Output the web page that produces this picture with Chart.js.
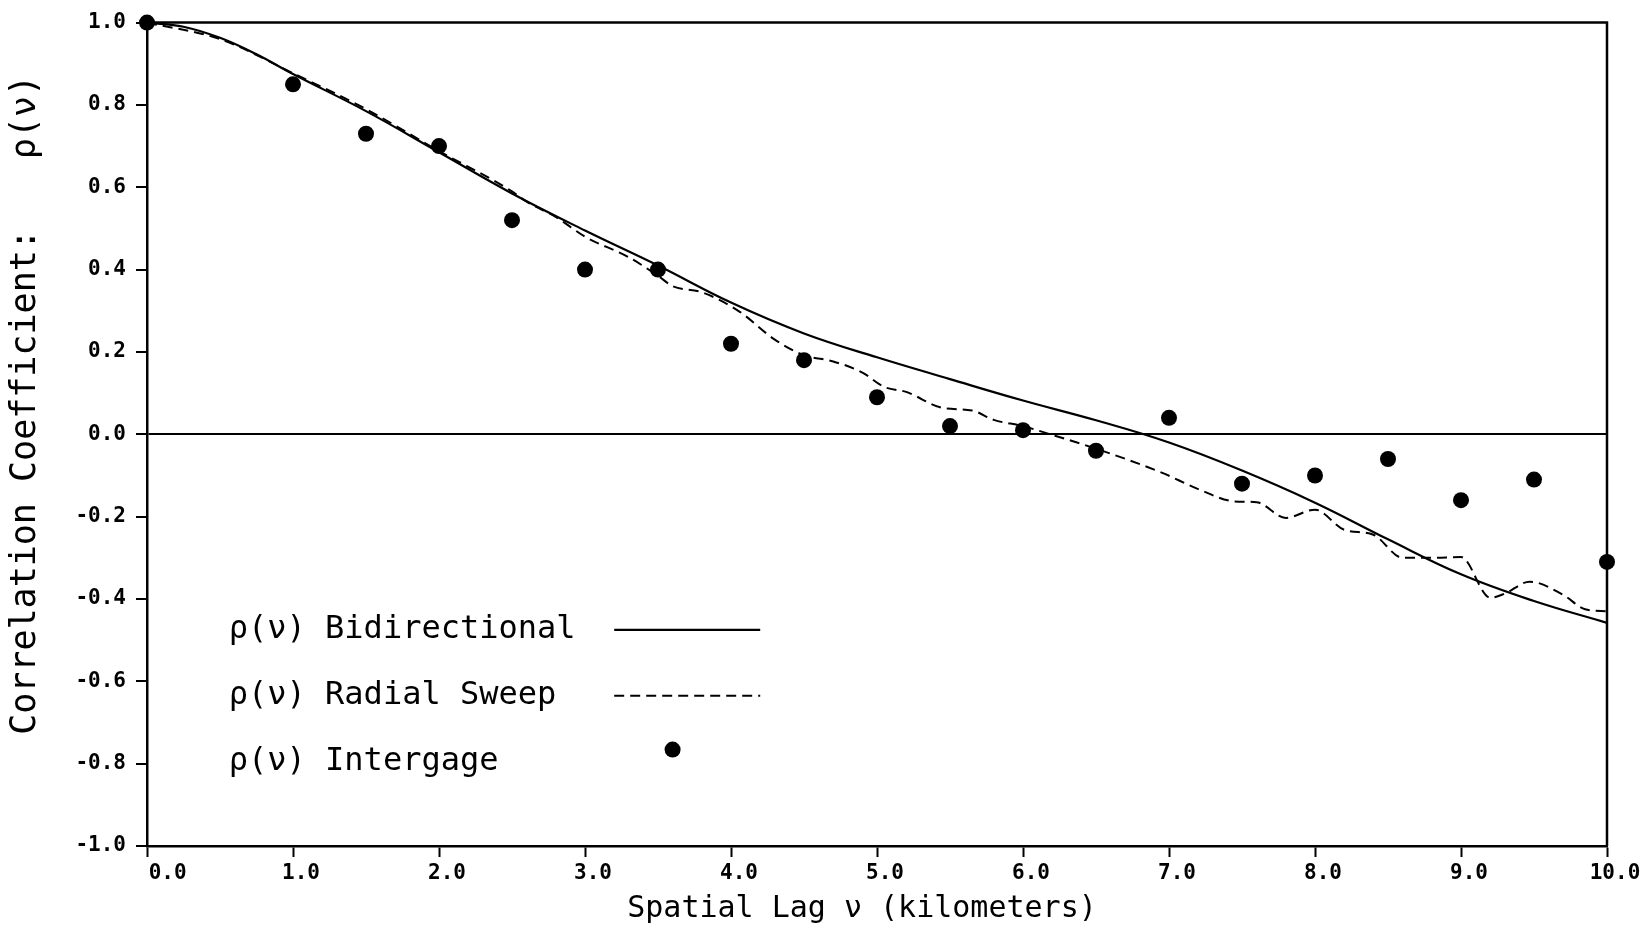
<!DOCTYPE html>
<html>
<head>
<meta charset="utf-8">
<script src="https://cdn.jsdelivr.net/npm/chart.js@4.4.1/dist/chart.umd.min.js"></script>
<style>
  html, body { margin: 0; padding: 0; background: #fff; }
</style>
</head>
<body>
<canvas id="corrChart" width="1648" height="933"></canvas>
<script>
// Bidirectional correlation (solid curve)
const bidirLag = [0, 0.25, 0.5, 0.75, 1.0, 1.5, 2.0, 2.5, 3.0, 3.5, 4.0, 4.5, 5.0, 5.5, 6.0, 6.5, 7.0, 7.5, 8.0, 8.5, 9.0, 9.5, 10.0];
const bidirRho = [1.0, 0.99, 0.963, 0.923, 0.875, 0.785, 0.685, 0.585, 0.495, 0.41, 0.32, 0.245, 0.187, 0.134, 0.082, 0.034, -0.02, -0.088, -0.166, -0.255, -0.34, -0.405, -0.458];

// Radial sweep correlation (dashed curve)
const sweepLag = [0, 0.5, 1.0, 1.5, 2.0, 2.5, 2.6, 2.8, 3.0, 3.3, 3.5, 3.6, 3.8, 4.05, 4.3, 4.5, 4.7, 4.9, 5.05, 5.2, 5.45, 5.65, 5.8, 6.0, 6.15, 6.5, 6.95, 7.2, 7.45, 7.6, 7.8, 8.0, 8.2, 8.4, 8.6, 8.8, 9.0, 9.2, 9.3, 9.47, 9.7, 9.85, 10.0];
const sweepRho = [1.0, 0.96, 0.877, 0.79, 0.688, 0.59, 0.565, 0.528, 0.48, 0.43, 0.385, 0.36, 0.345, 0.30, 0.23, 0.192, 0.177, 0.15, 0.115, 0.103, 0.064, 0.058, 0.035, 0.02, 0.004, -0.035, -0.093, -0.133, -0.163, -0.165, -0.203, -0.183, -0.232, -0.244, -0.30, -0.30, -0.298, -0.397, -0.387, -0.358, -0.39, -0.425, -0.43];

// Intergage correlation (dots)
const gageLag = [0, 1.0, 1.5, 2.0, 2.5, 3.0, 3.5, 4.0, 4.5, 5.0, 5.5, 6.0, 6.5, 7.0, 7.5, 8.0, 8.5, 9.0, 9.5, 10.0];
const gageRho = [1.0, 0.85, 0.73, 0.70, 0.52, 0.40, 0.40, 0.22, 0.18, 0.09, 0.02, 0.01, -0.04, 0.04, -0.12, -0.10, -0.06, -0.16, -0.11, -0.31];

const legendLabels = ['ρ(ν) Bidirectional', 'ρ(ν) Radial Sweep', 'ρ(ν) Intergage'];
const xTitle = 'Spatial Lag ν (kilometers)';
const yTitle = 'Correlation Coefficient:';
const yTitleSymbol = 'ρ(ν)';

const FONT = "'DejaVu Sans Mono', monospace";

function toPoints(xs, ys) {
  return xs.map((x, i) => ({x: x, y: ys[i]}));
}

// box on top/right, axis titles and the legend drawn inside the plot
const framePlugin = {
  id: 'frameAndText',
  afterDraw(chart) {
    const ctx = chart.ctx;
    const a = chart.chartArea;
    const xs = chart.scales.x, ys = chart.scales.y;
    ctx.save();
    ctx.strokeStyle = '#000';
    ctx.lineWidth = 2.5;
    ctx.beginPath();
    ctx.moveTo(a.left, a.top);
    ctx.lineTo(a.right, a.top);
    ctx.lineTo(a.right, a.bottom);
    ctx.stroke();

    ctx.fillStyle = '#000';
    ctx.textBaseline = 'middle';
    ctx.textAlign = 'center';
    ctx.font = '30px ' + FONT;
    ctx.fillText(xTitle, (a.left + a.right) / 2 - 15, 909);

    ctx.save();
    ctx.translate(26, 0);
    ctx.rotate(-Math.PI / 2);
    ctx.font = '35px ' + FONT;
    ctx.fillText(yTitle, -482, 0);
    ctx.fillText(yTitleSymbol, -117, 0);
    ctx.restore();

    // legend
    const order = [1, 2, 0];
    const rows = [-0.475, -0.635, -0.795];
    ctx.font = '32px ' + FONT;
    ctx.textAlign = 'left';
    order.forEach((di, r) => {
      const ds = chart.data.datasets[di];
      const y = ys.getPixelForValue(rows[r]);
      ctx.fillText(ds.label, xs.getPixelForValue(0.56), y);
      if (ds.showLine) {
        ctx.lineWidth = ds.borderWidth;
        ctx.setLineDash(ds.borderDash || []);
        ctx.beginPath();
        ctx.moveTo(xs.getPixelForValue(3.2), y);
        ctx.lineTo(xs.getPixelForValue(4.2), y);
        ctx.stroke();
        ctx.setLineDash([]);
      } else {
        ctx.beginPath();
        ctx.arc(xs.getPixelForValue(3.6), y - 12, ds.pointRadius, 0, Math.PI * 2);
        ctx.fill();
      }
    });
    ctx.restore();
  }
};

new Chart(document.getElementById('corrChart'), {
  type: 'scatter',
  data: {
    datasets: [
      {
        label: legendLabels[2],
        data: toPoints(gageLag, gageRho),
        showLine: false,
        pointRadius: 8,
        pointBorderWidth: 0,
        backgroundColor: '#000',
        borderColor: '#000',
        clip: false,
        order: 0
      },
      {
        label: legendLabels[0],
        data: toPoints(bidirLag, bidirRho),
        showLine: true,
        borderColor: '#000',
        borderWidth: 2.2,
        pointRadius: 0,
        tension: 0.4,
        order: 1
      },
      {
        label: legendLabels[1],
        data: toPoints(sweepLag, sweepRho),
        showLine: true,
        borderColor: '#000',
        borderWidth: 2,
        borderDash: [10, 6],
        pointRadius: 0,
        cubicInterpolationMode: 'monotone',
        order: 2
      }
    ]
  },
  options: {
    responsive: false,
    animation: false,
    devicePixelRatio: 1,
    layout: { padding: { top: 22, right: 41, left: 0, bottom: 0 } },
    plugins: {
      legend: { display: false },
      tooltip: { enabled: false }
    },
    scales: {
      x: {
        type: 'linear',
        min: 0,
        max: 10,
        afterFit: (s) => { s.height = 87; },
        border: { color: '#000', width: 2.5 },
        grid: { drawOnChartArea: false, tickLength: 11, tickWidth: 2, tickColor: '#000' },
        ticks: {
          stepSize: 1,
          color: '#000',
          padding: 4,
          labelOffset: 8,
          font: { family: FONT, size: 21, weight: 'bold' },
          callback: (v) => (v === 0 ? '  0.0' : v.toFixed(1))
        }
      },
      y: {
        min: -1,
        max: 1,
        afterFit: (s) => { s.width = 147; },
        border: { color: '#000', width: 2.5 },
        grid: {
          color: (c) => (c.tick && Math.abs(c.tick.value) < 1e-9 ? '#000' : 'rgba(0,0,0,0)'),
          lineWidth: 2,
          tickLength: 11,
          tickWidth: 2,
          tickColor: '#000'
        },
        ticks: {
          stepSize: 0.2,
          color: '#000',
          padding: 10,
          font: { family: FONT, size: 21, weight: 'bold' },
          callback: (v) => (Math.abs(v) < 1e-9 ? '0.0' : v.toFixed(1))
        }
      }
    }
  },
  plugins: [framePlugin]
});
</script>
</body>
</html>
